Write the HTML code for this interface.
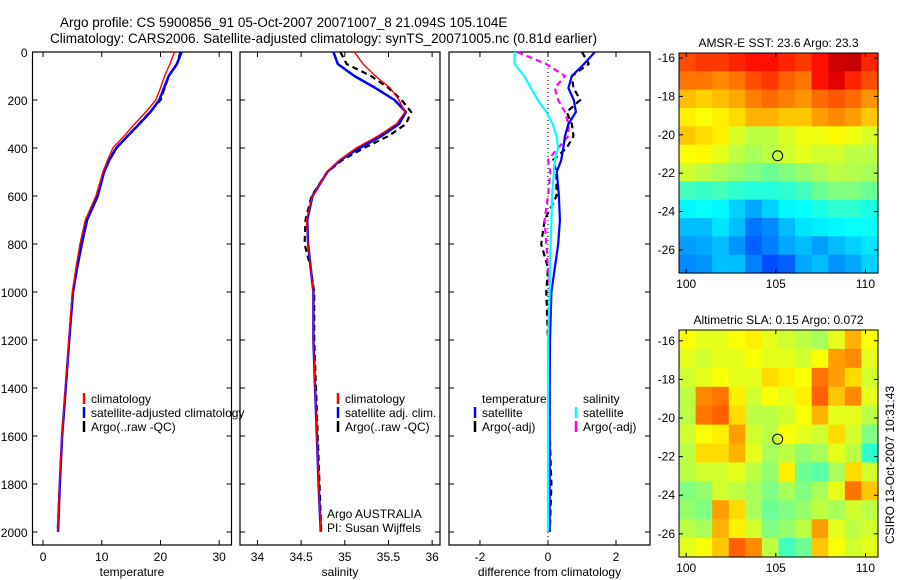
<!DOCTYPE html>
<html><head><meta charset="utf-8"><style>
html,body{margin:0;padding:0;background:#fff;}
svg{display:block;font-family:"Liberation Sans",sans-serif;}
</style></head><body>
<svg id="fig" width="900" height="580" viewBox="0 0 900 580" xmlns="http://www.w3.org/2000/svg">
<text x="60" y="27" font-size="13.5">Argo profile: CS 5900856_91 05-Oct-2007 20071007_8 21.094S 105.104E</text>
<text x="50" y="43" font-size="13.5">Climatology: CARS2006. Satellite-adjusted climatology: synTS_20071005.nc (0.81d earlier)</text>
<g id="plots"></g>
<text transform="translate(894,465) rotate(-90)" font-size="12" text-anchor="middle">CSIRO 13-Oct-2007 10:31:43</text>
</svg>
<script>
// ---------- data ----------
const depths = [0,50,100,150,200,250,300,350,400,450,500,600,700,800,900,1000,1200,1400,1600,1800,2000];
const tempClim = [22.4,21.6,20.7,20.0,19.2,17.5,15.6,13.8,11.9,11.0,10.2,9.0,7.2,6.3,5.6,5.0,4.4,3.8,3.2,2.8,2.5];
const tempSat  = [23.6,22.8,21.4,20.6,19.8,18.3,16.4,14.4,12.5,11.3,10.4,9.3,7.5,6.6,5.8,5.1,4.45,3.85,3.25,2.85,2.55];
const tempArgo = [23.4,22.8,21.4,20.7,20.0,18.2,16.3,14.4,12.4,11.2,10.4,9.3,7.4,6.4,5.7,5.05,4.45,3.85,3.25,2.85,2.5];
const salClim = [35.11,35.21,35.35,35.52,35.62,35.69,35.59,35.38,35.13,34.94,34.80,34.63,34.56,34.58,34.61,34.64,34.64,34.66,34.68,34.70,34.725];
const salSat  = [34.87,34.92,35.11,35.35,35.57,35.70,35.62,35.42,35.17,34.95,34.80,34.63,34.57,34.58,34.61,34.64,34.64,34.66,34.68,34.70,34.725];
const salArgo = [34.95,35.02,35.30,35.50,35.65,35.76,35.70,35.50,35.22,34.97,34.80,34.62,34.55,34.54,34.61,34.65,34.65,34.67,34.69,34.71,34.73];
const diffTSat  = [1.38,1.06,0.70,0.60,0.76,0.82,0.60,0.50,0.45,0.39,0.26,0.32,0.35,0.30,0.20,0.10,0.06,0.05,0.05,0.05,0.05];
const diffTArgo = [1.00,1.20,0.70,0.75,0.95,0.55,0.70,0.75,0.55,0.15,0.25,0.25,-0.10,-0.20,0.00,-0.05,0.00,0.05,0.05,0.10,0.05];
const diffSSat  = [-0.98,-0.98,-0.70,-0.50,-0.30,-0.05,0.14,0.25,0.30,0.20,0.17,0.12,0.10,0.08,0.06,0.05,0.00,0.00,0.00,0.00,0.00];
const diffSArgo = [-0.90,-0.05,0.50,0.20,0.30,0.50,0.60,0.60,0.30,0.00,0.07,0.00,-0.10,-0.05,0.00,0.05,0.05,0.05,0.05,0.05,0.00];
const depthTicks = [0,200,400,600,800,1000,1200,1400,1600,1800,2000];
const tempTicks = [0,10,20,30];
const salTicks = [34,34.5,35,35.5,36];
const diffTicks = [-2,0,2];
// maps (jet colormap index 0..1), rows top(north)->bottom(south)
const sstGrid = [
 [0.8,0.82,0.82,0.84,0.86,0.86,0.84,0.82,0.86,0.92,0.93,0.84],
 [0.76,0.76,0.74,0.76,0.8,0.82,0.78,0.76,0.86,0.9,0.84,0.8],
 [0.69,0.67,0.69,0.71,0.75,0.77,0.75,0.73,0.77,0.79,0.77,0.73],
 [0.64,0.62,0.64,0.66,0.7,0.7,0.68,0.68,0.72,0.74,0.72,0.68],
 [0.68,0.66,0.64,0.59,0.56,0.56,0.59,0.61,0.61,0.63,0.61,0.59],
 [0.62,0.63,0.6,0.56,0.54,0.56,0.58,0.6,0.58,0.58,0.56,0.56],
 [0.58,0.56,0.54,0.52,0.5,0.48,0.5,0.52,0.54,0.56,0.55,0.54],
 [0.44,0.43,0.44,0.42,0.41,0.41,0.42,0.44,0.48,0.5,0.5,0.48],
 [0.37,0.38,0.37,0.33,0.29,0.33,0.37,0.38,0.4,0.42,0.42,0.4],
 [0.31,0.31,0.35,0.31,0.24,0.26,0.31,0.35,0.36,0.37,0.38,0.38],
 [0.28,0.29,0.31,0.27,0.22,0.25,0.29,0.31,0.28,0.31,0.33,0.35],
 [0.26,0.27,0.31,0.31,0.25,0.2,0.22,0.29,0.31,0.27,0.29,0.33]];
const slaGrid = [
 [0.62,0.6,0.6,0.62,0.64,0.6,0.58,0.56,0.54,0.6,0.7,0.62],
 [0.6,0.58,0.6,0.6,0.62,0.6,0.6,0.58,0.62,0.72,0.74,0.6],
 [0.58,0.6,0.62,0.6,0.6,0.66,0.64,0.62,0.76,0.72,0.66,0.58],
 [0.56,0.74,0.76,0.64,0.58,0.62,0.6,0.64,0.78,0.68,0.74,0.6],
 [0.56,0.76,0.78,0.66,0.56,0.56,0.58,0.62,0.7,0.6,0.6,0.56],
 [0.58,0.62,0.64,0.72,0.58,0.56,0.62,0.6,0.58,0.66,0.58,0.5],
 [0.56,0.66,0.66,0.7,0.6,0.54,0.56,0.52,0.54,0.6,0.56,0.42],
 [0.56,0.58,0.58,0.6,0.56,0.52,0.64,0.48,0.46,0.54,0.66,0.58],
 [0.5,0.52,0.58,0.56,0.54,0.5,0.54,0.5,0.54,0.6,0.76,0.68],
 [0.52,0.5,0.72,0.66,0.54,0.48,0.5,0.52,0.56,0.54,0.58,0.56],
 [0.56,0.54,0.7,0.64,0.58,0.5,0.52,0.56,0.72,0.6,0.56,0.58],
 [0.6,0.62,0.68,0.78,0.74,0.56,0.44,0.48,0.68,0.62,0.58,0.6]];
const argoLon = 105.104, argoLat = -21.094;
const mapLatTicks = [-16,-18,-20,-22,-24,-26];
const mapLonTicks = [100,105,110];

// ---------- helpers ----------
const NS = 'http://www.w3.org/2000/svg';
const root = document.getElementById('plots');
function mk(tag, attrs, parent){ const e=document.createElementNS(NS,tag); for(const k in attrs) e.setAttribute(k,attrs[k]); (parent||root).appendChild(e); return e; }
function lin(d0,d1,r0,r1){ return v => r0+(v-d0)*(r1-r0)/(d1-d0); }
const yD = lin(0,2000,52,532);

function panel(name,x0,x1,xmin,xmax,ticks,xlabel,showDepthLabels){
  const g = mk('g',{});
  
  
  const frame = mk('rect',{x:x0,y:52,width:x1-x0,height:493,fill:'none',stroke:'#000','stroke-width':1.2},g);
  
  
  const sx = lin(xmin,xmax,x0,x1);
  depthTicks.forEach(d=>{
    const y=yD(d);
    mk('line',{x1:x0,x2:x0+5,y1:y,y2:y,stroke:'#000'},g);
    mk('line',{x1:x1,x2:x1-5,y1:y,y2:y,stroke:'#000'},g);
    if(showDepthLabels){
      const t=mk('text',{x:x0-5,y:y+5,'font-size':12,'text-anchor':'end'},g);
      t.textContent=d;
      
      
    }
  });
  ticks.forEach(v=>{
    const x=sx(v);
    mk('line',{x1:x,x2:x,y1:545,y2:540,stroke:'#000'},g);
    mk('line',{x1:x,x2:x,y1:52,y2:57,stroke:'#000'},g);
    const t=mk('text',{x:x,y:561,'font-size':12,'text-anchor':'middle'},g);
    t.textContent=v;
    
    
  });
  const xl=mk('text',{x:(x0+x1)/2,y:576,'font-size':12,'text-anchor':'middle'},g);
  xl.textContent=xlabel;
  
  
  return {g,sx};
}
function line(p,vals,color,w,dash,name){
  let d='';
  vals.forEach((v,i)=>{ d+=(i?'L':'M')+p.sx(v).toFixed(1)+','+yD(depths[i]).toFixed(1); });
  const e=mk('path',{d:d,fill:'none',stroke:color,'stroke-width':w,'stroke-dasharray':dash||'none','stroke-linejoin':'round'},p.g);
  
  
}
function legend(g,x,y,color,label,dash){
  mk('line',{x1:x,x2:x,y1:y-10,y2:y+1,stroke:color,'stroke-width':2.5},g);
  const t=mk('text',{x:x+7,y:y,'font-size':12},g);
  t.textContent=label;
  
  
}

// Panel 1 temperature
const p1=panel('temperature-panel',32.5,231.5,-1.8,32.1,tempTicks,'temperature',true);
line(p1,tempArgo,'#000',2.2,'6,4','temp-argo-line');
line(p1,tempSat,'#0000ff',2.5,null,'temp-satellite-line');
line(p1,tempClim,'#ff0000',1.4,null,'temp-climatology-line');
legend(p1.g,84,403,'#ff0000','climatology');
legend(p1.g,84,417,'#0000ff','satellite-adjusted climatology');
legend(p1.g,84,431,'#000','Argo(..raw -QC)');

// Panel 2 salinity
const p2=panel('salinity-panel',240,440,33.8,36.09,salTicks,'salinity',false);
line(p2,salArgo,'#000',2.2,'6,4','sal-argo-line');
line(p2,salSat,'#0000ff',2.5,null,'sal-satellite-line');
line(p2,salClim,'#ff0000',1.4,null,'sal-climatology-line');
legend(p2.g,338,403,'#ff0000','climatology');
legend(p2.g,338,417,'#0000ff','satellite adj. clim.');
legend(p2.g,338,431,'#000','Argo(..raw -QC)');
[['Argo AUSTRALIA',518],['PI: Susan Wijffels',532]].forEach(([s,y])=>{
  const t=mk('text',{x:327,y:y,'font-size':12},p2.g); t.textContent=s;
  
  
});

// Panel 3 difference
const p3=panel('difference-panel',449,650,-2.91,3.0,diffTicks,'difference from climatology',false);
mk('line',{x1:p3.sx(0),x2:p3.sx(0),y1:52,y2:545,stroke:'#000','stroke-dasharray':'1,3'},p3.g);
line(p3,diffTArgo,'#000',2.2,'6,4','diff-temp-argo-line');
line(p3,diffSArgo,'#ff00ff',2.2,'6,4','diff-sal-argo-line');
line(p3,diffTSat,'#0000ff',2.2,null,'diff-temp-satellite-line');
line(p3,diffSSat,'#00ffff',2.2,null,'diff-sal-satellite-line');
[['temperature',482,403],['salinity',583,403]].forEach(([s,x,y])=>{
  const t=mk('text',{x:x,y:y,'font-size':12},p3.g); t.textContent=s;
  
  
});
legend(p3.g,475,417,'#0000ff','satellite');
legend(p3.g,475,431,'#000','Argo(-adj)');
legend(p3.g,576,417,'#00ffff','satellite');
legend(p3.g,576,431,'#ff00ff','Argo(-adj)');

// ---------- maps ----------
function jet(v){
  v=Math.max(0,Math.min(1,v));
  const f=t=>Math.round(255*Math.max(0,Math.min(1,1.5-Math.abs(4*v-t))));
  return 'rgb('+f(3)+','+f(2)+','+f(1)+')';
}
function map(name,title,grid,y0,y1,latTop,latBot){
  const g=mk('g',{});
  
  
  const x0=679,x1=878, lonL=99.6, lonR=110.7;
  const sx=lin(lonL,lonR,x0,x1), sy=lin(latTop,latBot,y0,y1);
  const nr=grid.length, nc=grid[0].length;
  const dLon=(lonR-lonL)/nc, dLat=(latBot-latTop)/nr;
  grid.forEach((row,r)=>row.forEach((v,c)=>{
    const xa=sx(lonL+c*dLon), xb=sx(lonL+(c+1)*dLon);
    const ya=sy(latTop+r*dLat), yb=sy(latTop+(r+1)*dLat);
    const cell=mk('rect',{x:xa.toFixed(2),y:ya.toFixed(2),width:(xb-xa+0.6).toFixed(2),height:(yb-ya+0.6).toFixed(2),fill:jet(v)},g);
    
    
  }));
  mk('rect',{x:x0,y:y0,width:x1-x0,height:y1-y0,fill:'none',stroke:'#000'},g);
  mapLatTicks.forEach(l=>{
    const y=sy(l);
    mk('line',{x1:x0,x2:x0+4,y1:y,y2:y,stroke:'#000'},g);
    mk('line',{x1:x1,x2:x1-4,y1:y,y2:y,stroke:'#000'},g);
    const t=mk('text',{x:x0-4,y:y+4,'font-size':12,'text-anchor':'end'},g); t.textContent=l;
    
    
  });
  mapLonTicks.forEach(l=>{
    const x=sx(l);
    mk('line',{x1:x,x2:x,y1:y1,y2:y1-4,stroke:'#000'},g);
    mk('line',{x1:x,x2:x,y1:y0,y2:y0+4,stroke:'#000'},g);
    const t=mk('text',{x:x,y:y1+15,'font-size':12,'text-anchor':'middle'},g); t.textContent=l;
    
    
  });
  const m=mk('circle',{cx:sx(argoLon),cy:sy(argoLat),r:5,fill:'none',stroke:'#000'},g);
  
  
  const t=mk('text',{x:(x0+x1)/2,y:y0-6,'font-size':12,'text-anchor':'middle'},g); t.textContent=title;
  
  
}
map('sst-map','AMSR-E SST: 23.6 Argo: 23.3',sstGrid,53,273,-15.74,-27.2);
map('sla-map','Altimetric SLA: 0.15 Argo: 0.072',slaGrid,330,557,-15.44,-27.2);
</script>
</body></html>
